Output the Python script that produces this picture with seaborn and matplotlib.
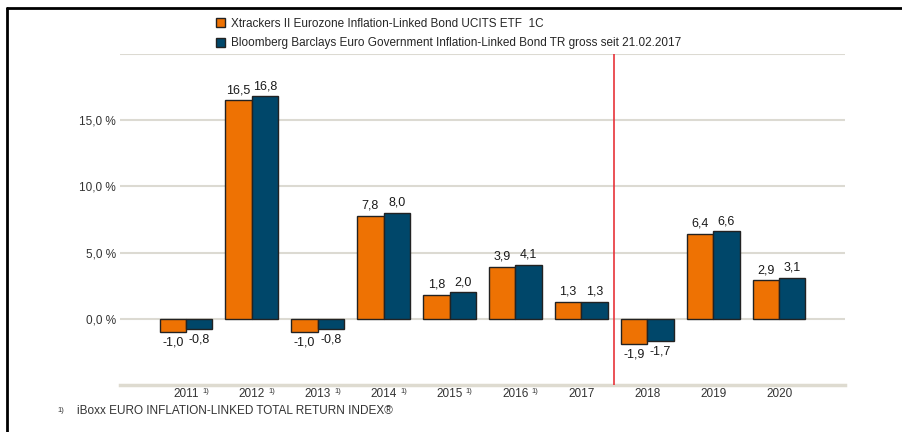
import matplotlib
matplotlib.use("Agg")
import matplotlib.pyplot as plt
from matplotlib.lines import Line2D
import pandas as pd
import seaborn as sns

years = ["2011", "2012", "2013", "2014", "2015", "2016", "2017", "2018", "2019", "2020"]
fund = [-1.0, 16.5, -1.0, 7.8, 1.8, 3.9, 1.3, -1.9, 6.4, 2.9]
bench = [-0.8, 16.8, -0.8, 8.0, 2.0, 4.1, 1.3, -1.7, 6.6, 3.1]
footnote_years = ["2011", "2012", "2013", "2014", "2015", "2016"]
fund_name = "Xtrackers II Eurozone Inflation-Linked Bond UCITS ETF  1C"
bench_name = "Bloomberg Barclays Euro Government Inflation-Linked Bond TR gross seit 21.02.2017"
footnote = "iBoxx EURO INFLATION-LINKED TOTAL RETURN INDEX®"

df = pd.DataFrame({
    "year": years * 2,
    "value": fund + bench,
    "series": [fund_name] * len(years) + [bench_name] * len(years),
})

sns.set_theme(style="white")
plt.rcParams["font.family"] = ["Liberation Sans", "DejaVu Sans"]

W, H = 903, 432
fig = plt.figure(figsize=(W / 100, H / 100), dpi=100)
ax = fig.add_axes([120 / W, 1 - 385 / H, (845 - 120) / W, (385 - 54) / H])

sns.barplot(data=df, x="year", y="value", hue="series", order=years,
            palette=["#ee7203", "#00476a"], width=0.8, edgecolor="#222222",
            linewidth=1.0, saturation=1, ax=ax, zorder=3)

ax.set_xlim(-1, 10)
ax.set_ylim(-5, 20)
ax.set_yticks([0, 5, 10, 15, 20])
ax.set_yticklabels(["0,0 %", "5,0 %", "10,0 %", "15,0 %", ""], fontsize=8.5, color="#333333")
ax.yaxis.grid(True, color="#dcdad2", linewidth=1.5, zorder=0)
ax.tick_params(axis="y", length=0, pad=3)
for s in ["top", "right", "left"]:
    ax.spines[s].set_visible(False)
ax.spines["bottom"].set_color("#dedbd0")
ax.spines["bottom"].set_linewidth(2.5)
ax.set_xlabel("")
ax.set_ylabel("")
ax.tick_params(axis="x", length=0, pad=2.5, labelsize=8.5, labelcolor="#333333")
minor = [k - 0.35 for k in range(11)] + [k + 0.3 for k in range(10)]
ax.set_xticks(minor, minor=True)
ax.tick_params(axis="x", which="minor", direction="in", length=4, width=1.2, color="#dedbd0")

# value labels
for bars in ax.containers:
    for b in bars:
        v = b.get_height()
        x = b.get_x() + b.get_width() / 2
        txt = f"{v:.1f}".replace(".", ",")
        if v >= 0:
            ax.annotate(txt, (x, v), xytext=(0, 3), textcoords="offset points",
                        ha="center", va="bottom", fontsize=9, color="#1a1a1a")
        else:
            ax.annotate(txt, (x, v), xytext=(0, -3), textcoords="offset points",
                        ha="center", va="top", fontsize=9, color="#1a1a1a")

# footnote marks next to year labels
for y in footnote_years:
    i = years.index(y)
    ax.annotate("1)", (i + 0.3, 0), xycoords=("data", "axes fraction"), xytext=(0, -2),
                textcoords="offset points", ha="center", va="top", fontsize=5.5, color="#333333")

ax.axvline(6.5, color="#e8333a", linewidth=1.2, zorder=4)

ax.get_legend().remove()
handles = [ax.containers[0].patches[0], ax.containers[1].patches[0]]
fig.legend(handles, [fund_name, bench_name], loc="upper left",
           bbox_to_anchor=(205 / W, 1 - 7 / H), frameon=False, fontsize=8.5,
           handlelength=0.8, handleheight=0.8, handletextpad=0.5, labelspacing=0.65)

fig.text(57 / W, 1 - 411 / H, "1)", fontsize=5.5, color="#333333", va="center")
fig.text(77 / W, 1 - 411 / H, footnote, fontsize=8.5, color="#333333", va="center")

# outer frame (top and left)
fig.add_artist(Line2D([7 / W, 1], [1 - 8 / H, 1 - 8 / H], color="black", linewidth=2))
fig.add_artist(Line2D([7 / W, 7 / W], [0, 1 - 8 / H], color="black", linewidth=2))

fig.savefig("out.png", dpi=100)
